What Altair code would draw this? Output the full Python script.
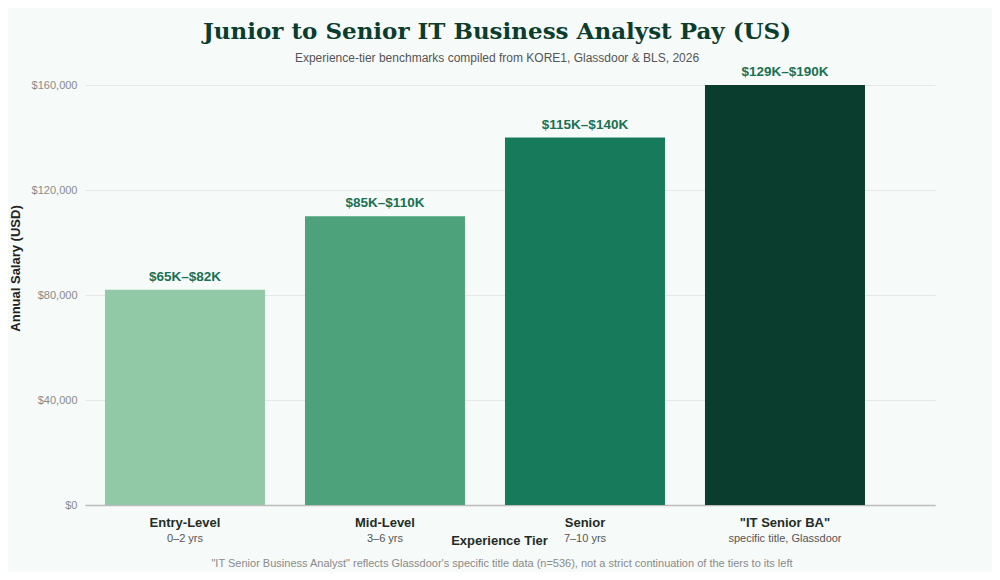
import altair as alt
import pandas as pd

# data
tiers = ["Entry-Level", "Mid-Level", "Senior", '"IT Senior BA"']
sub_labels = ["0\u20132 yrs", "3\u20136 yrs", "7\u201310 yrs", "specific title, Glassdoor"]
top_of_range = [82000, 110000, 140000, 190000]
range_labels = ["$65K\u2013$82K", "$85K\u2013$110K", "$115K\u2013$140K", "$129K\u2013$190K"]
bar_colors = ["#91c9a7", "#4ea27b", "#167a5b", "#0a3d2e"]

df = pd.DataFrame({
    "tier": tiers,
    "sub": sub_labels,
    "salary": top_of_range,
    "label": range_labels,
})

W, H = 850, 420
FONT = "Liberation Sans"

x = alt.X("tier:N", sort=tiers, title="Experience Tier").scale(
    paddingInner=0.2, paddingOuter=0.225, align=0.222
).axis(
    labelAngle=0, labelFont=FONT, labelFontSize=13, labelFontWeight="bold",
    labelColor="#1f2d27", labelPadding=11, ticks=False,
    domainColor="#bdbdbd", domainWidth=1.5,
    titleFont=FONT, titleFontSize=13, titleFontWeight="bold", titleColor="#1f2d27",
    titlePadding=5, titleX=414,
)
y = alt.Y("salary:Q", title="Annual Salary (USD)").scale(
    domain=[0, 160000], clamp=True, nice=False
).axis(
    values=[0, 40000, 80000, 120000, 160000], format="$,.0f",
    labelFont=FONT, labelFontSize=11, labelColor="#8a8a8a", labelPadding=8,
    ticks=False, domain=False, gridColor="#e3e7e5",
    titleFont=FONT, titleFontSize=13, titleFontWeight="bold", titleColor="#222222",
    titlePadding=9, titleY=183,
)

base = alt.Chart(df)

bars = base.mark_bar().encode(
    x=x,
    y=y,
    color=alt.Color("tier:N", sort=tiers, legend=None).scale(domain=tiers, range=bar_colors),
)

values = base.mark_text(
    baseline="bottom", dy=-6, font=FONT, fontSize=13.5, fontWeight="bold", color="#1a7052"
).encode(x=alt.X("tier:N", sort=tiers), y="salary:Q", text="label:N")

subs = base.mark_text(
    baseline="middle", font=FONT, fontSize=11, color="#555555"
).encode(x=alt.X("tier:N", sort=tiers), y=alt.value(H + 34), text="sub:N")

note = alt.Chart(pd.DataFrame({"t": [
    "\"IT Senior Business Analyst\" reflects Glassdoor's specific title data (n=536), "
    "not a strict continuation of the tiers to its left"
]})).mark_text(
    baseline="middle", font=FONT, fontSize=11, color="#8a8a8a"
).encode(x=alt.value(417), y=alt.value(H + 59), text="t:N")

chart = (bars + values + subs + note).properties(
    width=W,
    height=H,
    autosize=alt.AutoSizeParams(type="none"),
    padding={"left": 77, "top": 77, "right": 57, "bottom": 67},
    background="#f6faf8",
    title=alt.TitleParams(
        "Junior to Senior IT Business Analyst Pay (US)",
        subtitle="Experience-tier benchmarks compiled from KORE1, Glassdoor & BLS, 2026",
        font="DejaVu Serif", fontSize=23, fontWeight="bold", color="#0b3d2e",
        subtitleFont=FONT, subtitleFontSize=12, subtitleColor="#555555",
        subtitlePadding=9, anchor="middle", dx=-13, offset=1,
    ),
).configure_view(stroke=None)

chart.save("out.html", embed_options={"renderer": "svg", "actions": False})
